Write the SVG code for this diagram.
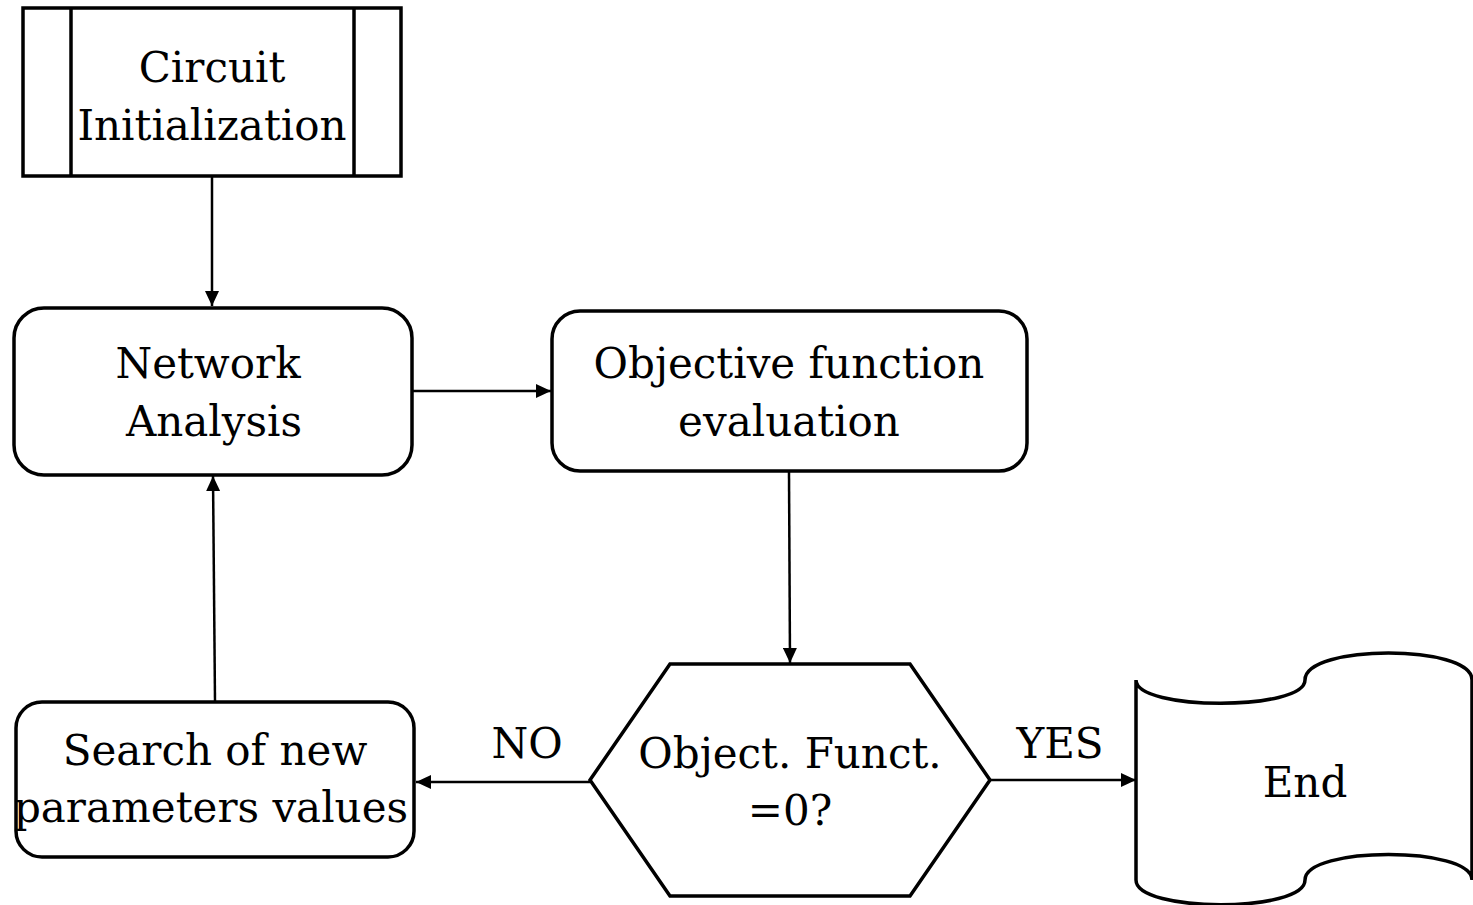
<svg xmlns="http://www.w3.org/2000/svg" width="1473" height="905" viewBox="0 0 1473 905">
<style>
.shape{fill:#fff;stroke:#000;stroke-width:3.5;stroke-linejoin:miter}
.lbl{font-family:"DejaVu Serif","Liberation Serif",serif;font-size:42px;fill:#000;text-anchor:middle}
.conn{stroke:#000;stroke-width:2.5;fill:none;marker-end:url(#ah)}
</style>
<defs>
<marker id="ah" viewBox="0 0 15 14" refX="15" refY="7" markerWidth="15" markerHeight="14" markerUnits="userSpaceOnUse" orient="auto">
<path d="M0,0 L15,7 L0,14 Z" fill="#000"/>
</marker>
</defs>
<rect width="1473" height="905" fill="#fff"/>
<g id="connectors">
<line class="conn" x1="212" y1="177" x2="212" y2="306"/>
<line class="conn" x1="413" y1="391" x2="551" y2="391"/>
<line class="conn" x1="789" y1="472" x2="790" y2="663"/>
<line class="conn" x1="590" y1="782" x2="416" y2="782"/>
<line class="conn" x1="990" y1="780" x2="1136" y2="780"/>
<line class="conn" x1="215" y1="701" x2="213" y2="476"/>
</g>
<g id="circuit-init">
<rect class="shape" x="23" y="8" width="378" height="168"/>
<line class="shape" x1="71" y1="8" x2="71" y2="176"/>
<line class="shape" x1="354" y1="8" x2="354" y2="176"/>
<text class="lbl" x="212" y="82">Circuit</text>
<text class="lbl" x="212" y="140">Initialization</text>
</g>
<g id="network-analysis">
<rect class="shape" x="14" y="308" width="398" height="167" rx="30" ry="30"/>
<text class="lbl" x="208" y="378">Network</text>
<text class="lbl" x="214" y="436">Analysis</text>
</g>
<g id="objective-eval">
<rect class="shape" x="552" y="311" width="475" height="160" rx="28" ry="28"/>
<text class="lbl" x="789" y="378">Objective function</text>
<text class="lbl" x="789" y="436">evaluation</text>
</g>
<g id="decision">
<polygon class="shape" points="590,780 670,664 910,664 990,780 910,896 670,896"/>
<text class="lbl" x="790" y="768">Object. Funct.</text>
<text class="lbl" x="790" y="825">=0?</text>
</g>
<g id="search">
<rect class="shape" x="16" y="702" width="398" height="155" rx="26" ry="26"/>
<text class="lbl" x="215" y="765">Search of new</text>
<text class="lbl" x="211" y="822">parameters values</text>
</g>
<g id="end">
<path class="shape" d="M1136,680 C1136,711 1305,711 1305,680 C1305,644 1472,644 1472,680 L1472,880 C1472,846 1305,846 1305,880 C1305,913 1136,913 1136,880 Z"/>
<text class="lbl" x="1305" y="797">End</text>
</g>
<g id="edge-labels">
<text class="lbl" x="527" y="758">NO</text>
<text class="lbl" x="1060" y="758">YES</text>
</g>
</svg>
